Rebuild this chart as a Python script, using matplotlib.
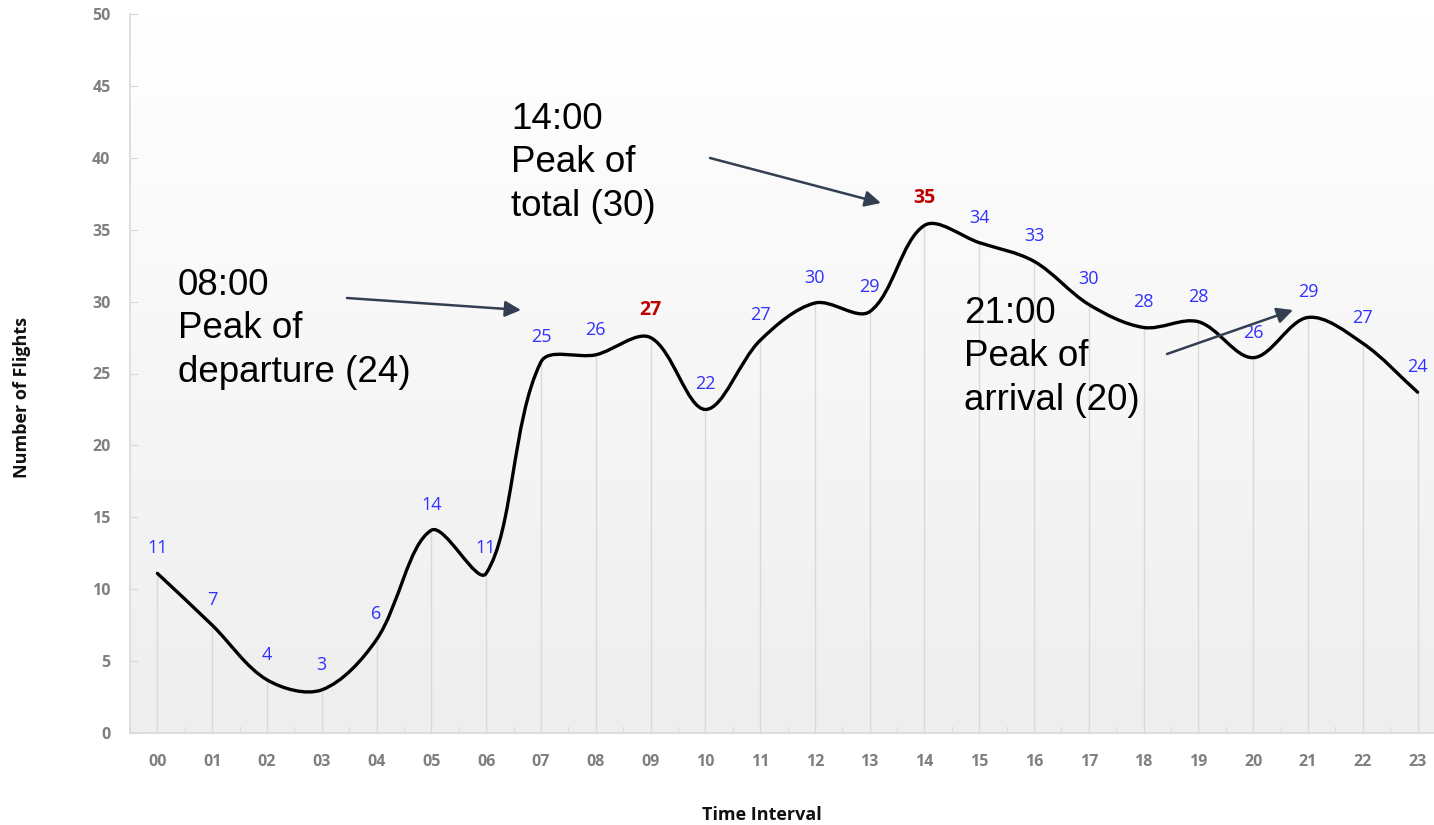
import numpy as np
import matplotlib
matplotlib.use("Agg")
import matplotlib.pyplot as plt
from matplotlib.path import Path
from matplotlib.patches import PathPatch, FancyArrowPatch
from matplotlib.colors import LinearSegmentedColormap

# ---- data ----
hours = ["00", "01", "02", "03", "04", "05", "06", "07", "08", "09", "10", "11",
         "12", "13", "14", "15", "16", "17", "18", "19", "20", "21", "22", "23"]
curve_values = [11.1, 7.5, 3.7, 3.0, 6.5, 14.1, 11.1, 25.8, 26.3, 27.5, 22.5, 27.3,
                29.9, 29.3, 35.3, 34.1, 32.8, 29.8, 28.2, 28.6, 26.1, 28.9, 27.1, 23.7]
label_values = [11, 7, 4, 3, 6, 14, 11, 25, 26, 27, 22, 27,
                30, 29, 35, 34, 33, 30, 28, 28, 26, 29, 27, 24]
highlight = ["09", "14"]
y_ticks = [0, 5, 10, 15, 20, 25, 30, 35, 40, 45, 50]
notes = [["08:00", "Peak of", "departure (24)"],
         ["14:00", "Peak of", "total (30)"],
         ["21:00", "Peak of", "arrival (20)"]]

W, H = 1434, 825
fig = plt.figure(figsize=(W / 100, H / 100), dpi=100)
ax_l, ax_r, ax_t, ax_b = 130, 1445, 14, 733
ax = fig.add_axes([ax_l / W, 1 - ax_b / H, (ax_r - ax_l) / W, (ax_b - ax_t) / H])

x = np.arange(len(hours))
y = np.array(curve_values, dtype=float)
x0, x1, y0, y1 = -0.5, len(hours) - 0.5, 0, 50

# gradient background: white at top, light grey at bottom
cmap = LinearSegmentedColormap.from_list("bg", ["#ffffff", "#eeeeee"])
grad = np.linspace(1, 0, 256).reshape(-1, 1)
ax.imshow(grad, extent=[x0, x1, y0, y1], aspect="auto", cmap=cmap,
          zorder=0, origin="lower", vmin=0, vmax=1)
ax.set_xlim(x0, x1)
ax.set_ylim(y0, y1)

# drop lines
ax.vlines(x, 0, y, color="#d9d9d9", lw=1.0, zorder=1)

# smooth curve (Bezier through data points, chord-length weighted tangents)
sx = (ax_r - ax_l) / (x1 - x0)
sy = (ax_b - ax_t) / (y1 - y0)
P = np.column_stack([x * sx, y * sy])
n = len(P)

def seg_len(a, b):
    return np.hypot(*(P[b] - P[a]))

out_c, in_c = [], []
for i in range(n):
    pa = P[i - 1] if i > 0 else P[i]
    pb = P[i + 1] if i < n - 1 else P[i]
    d1 = seg_len(i - 1, i) if i > 0 else 0.0
    d2 = seg_len(i, i + 1) if i < n - 1 else 0.0
    T = pb - pa
    tot = d1 + d2 if (d1 + d2) > 0 else 1.0
    out_c.append(P[i] + T * (d2 / tot) / 3.0)
    in_c.append(P[i] - T * (d1 / tot) / 3.0)

verts = [P[0]]
codes = [Path.MOVETO]
for i in range(n - 1):
    verts += [out_c[i], in_c[i + 1], P[i + 1]]
    codes += [Path.CURVE4] * 3
verts = np.array(verts) / np.array([sx, sy])
ax.add_patch(PathPatch(Path(verts, codes), fill=False, lw=2.4, ec="black",
                       zorder=3, capstyle="round", joinstyle="round"))

# data labels
for xi, yi, lab, h in zip(x, y, label_values, hours):
    if h in highlight:
        ax.annotate(str(lab), (xi, yi), xytext=(0, 16), textcoords="offset points",
                    ha="center", va="baseline", color="#c00000", fontsize=14,
                    fontweight="bold", family="Open Sans", zorder=4)
    else:
        ax.annotate(str(lab), (xi, yi), xytext=(0, 14.5), textcoords="offset points",
                    ha="center", va="baseline", color="#3030ff", fontsize=13,
                    family="Open Sans", zorder=4)

# axes styling
for s in ["top", "right"]:
    ax.spines[s].set_visible(False)
for s in ["left", "bottom"]:
    ax.spines[s].set_color("#d9d9d9")
    ax.spines[s].set_linewidth(1.2)

ax.set_xticks(x)
ax.set_xticklabels(hours)
ax.set_xticks(np.arange(-0.5, len(hours), 1.0), minor=True)
ax.tick_params(axis="x", which="major", length=0, pad=15, labelsize=11.5,
               labelcolor="#7f7f7f")
ax.tick_params(axis="x", which="minor", length=5, direction="in", color="#d9d9d9")
ax.set_yticks(y_ticks)
ax.tick_params(axis="y", length=6, direction="in", color="#d9d9d9", pad=14,
               labelsize=11.5, labelcolor="#7f7f7f")
for lab in ax.get_xticklabels() + ax.get_yticklabels():
    lab.set_fontweight("bold")
    lab.set_family("Open Sans")

fig.text(762 / W, 1 - 815 / H, "Time Interval", ha="center", va="center",
         fontsize=13, fontweight="bold", family="Open Sans", color="#111111")
fig.text(22 / W, 1 - 398 / H, "Number of Flights", ha="center", va="center",
         rotation=90, fontsize=13, fontweight="bold", family="Open Sans",
         color="#111111")

# annotations (one text per line, baselines in pixels)
ann_kw = dict(ha="left", va="baseline", fontsize=26.5, family="Liberation Sans",
              color="black")
note_pos = [(178, 295), (511, 129), (964, 323)]
line_gap = 43.5
for (px, pb), lines in zip(note_pos, notes):
    for k, line in enumerate(lines):
        fig.text(px / W, 1 - (pb + k * line_gap) / H, line, **ann_kw)

def arrow(xa, ya, xb, yb):
    fig.add_artist(FancyArrowPatch((xa / W, 1 - ya / H), (xb / W, 1 - yb / H),
                                   transform=fig.transFigure, arrowstyle="-|>",
                                   mutation_scale=24, lw=1.8, color="#333f50",
                                   shrinkA=0, shrinkB=0, zorder=5))

arrow(347, 298, 521, 310)
arrow(710, 158, 881, 203)
arrow(1167, 354, 1293, 310)

fig.savefig("out.png", dpi=100)
